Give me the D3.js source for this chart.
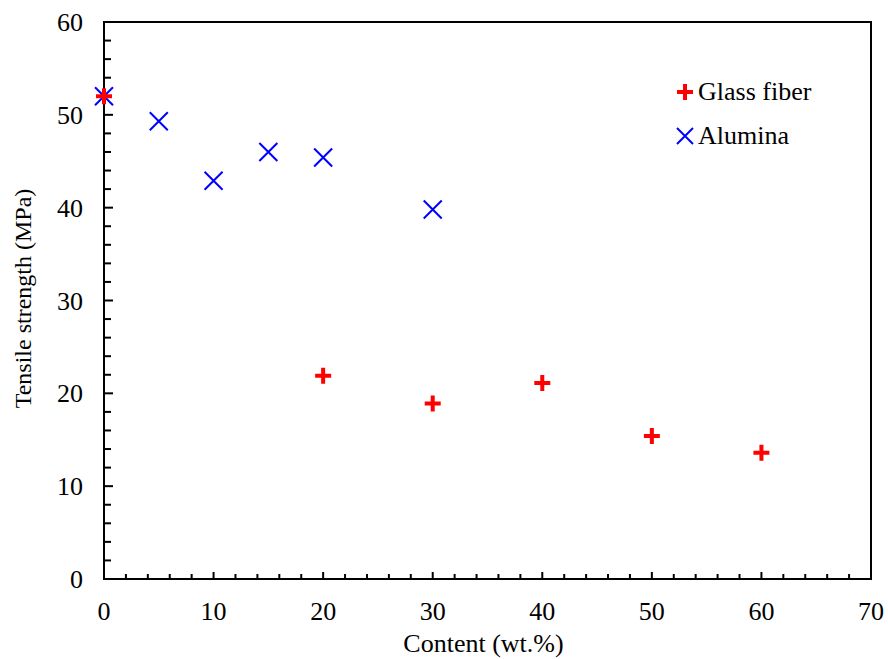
<!DOCTYPE html>
<html>
<head>
<meta charset="utf-8">
<script src="https://cdn.jsdelivr.net/npm/d3@7"></script>
<style>
  body { margin: 0; background: #fff; }
  text { font-family: "Liberation Serif", "Times New Roman", serif; fill: #000; }
</style>
</head>
<body>
<div id="chart"></div>
<script>
// data
var glassContent = [0, 20, 30, 40, 50, 60];
var glassStrength = [52.0, 21.9, 18.9, 21.1, 15.4, 13.6];
var aluminaContent = [0, 5, 10, 15, 20, 30];
var aluminaStrength = [52.0, 49.3, 42.9, 46.0, 45.4, 39.8];
var xTicks = [0, 10, 20, 30, 40, 50, 60, 70];
var yTicks = [0, 10, 20, 30, 40, 50, 60];

var svgWidth = 888, svgHeight = 659;
var margin = { top: 22, right: 17, bottom: 80, left: 104 };
var width = svgWidth - margin.left - margin.right;
var height = svgHeight - margin.top - margin.bottom;

var svg = d3.select("#chart").append("svg")
    .attr("width", svgWidth)
    .attr("height", svgHeight);

var g = svg.append("g")
    .attr("transform", `translate(${margin.left}, ${margin.top})`);

var x = d3.scaleLinear().domain([0, 70]).range([0, width]);
var y = d3.scaleLinear().domain([0, 60]).range([height, 0]);

// frame
g.append("rect")
    .attr("width", width)
    .attr("height", height)
    .attr("fill", "none")
    .attr("stroke", "#000")
    .attr("stroke-width", 2);

// ticks (inside), minor every 2
var minor = d3.range(0, 71, 2);
g.selectAll(".xminor").data(minor).enter().append("line")
    .attr("x1", d => x(d)).attr("x2", d => x(d))
    .attr("y1", height).attr("y2", d => height - (d % 10 === 0 ? 7 : 5))
    .attr("stroke", "#000").attr("stroke-width", 2);
var minorY = d3.range(0, 61, 2);
g.selectAll(".yminor").data(minorY).enter().append("line")
    .attr("y1", d => y(d)).attr("y2", d => y(d))
    .attr("x1", 0).attr("x2", d => (d % 10 === 0 ? 9 : 7))
    .attr("stroke", "#000").attr("stroke-width", 2);

// tick labels
g.selectAll(".xlab").data(xTicks).enter().append("text")
    .attr("x", d => x(d))
    .attr("y", height + 41)
    .attr("text-anchor", "middle")
    .attr("font-size", "26px")
    .text(d => d);
g.selectAll(".ylab").data(yTicks).enter().append("text")
    .attr("x", -21)
    .attr("y", d => y(d) + 9)
    .attr("text-anchor", "end")
    .attr("font-size", "26px")
    .text(d => d);

// axis titles
g.append("text")
    .attr("x", width / 2 - 4)
    .attr("y", height + 73)
    .attr("text-anchor", "middle")
    .attr("font-size", "26px")
    .text("Content (wt.%)");
g.append("text")
    .attr("transform", "rotate(-90)")
    .attr("x", -height / 2 + 2)
    .attr("y", -73)
    .attr("text-anchor", "middle")
    .attr("font-size", "24px")
    .text("Tensile strength (MPa)");

// markers
var plusPath = "M-8,0H8M0,-8V8";
var crossPath = "M-9,-9L9,9M-9,9L9,-9";

g.selectAll(".alumina").data(aluminaContent).enter().append("path")
    .attr("transform", (d, i) => `translate(${x(d)}, ${y(aluminaStrength[i])})`)
    .attr("d", crossPath)
    .attr("stroke", "#0000ff").attr("stroke-width", 2).attr("fill", "none");

g.selectAll(".glass").data(glassContent).enter().append("path")
    .attr("transform", (d, i) => `translate(${x(d)}, ${y(glassStrength[i])})`)
    .attr("d", plusPath)
    .attr("stroke", "#ff0000").attr("stroke-width", 4).attr("fill", "none");

// legend
var legend = g.append("g").attr("transform", "translate(581, 70)");
legend.append("path").attr("d", "M-8,0H8M0,-8V8")
    .attr("stroke", "#ff0000").attr("stroke-width", 4);
legend.append("text").attr("x", 13).attr("y", 8).attr("font-size", "26px").text("Glass fiber");
legend.append("path").attr("transform", "translate(0, 44)").attr("d", "M-8,-8L8,8M-8,8L8,-8")
    .attr("stroke", "#0000ff").attr("stroke-width", 2);
legend.append("text").attr("x", 13).attr("y", 52).attr("font-size", "26px").text("Alumina");
</script>
</body>
</html>
